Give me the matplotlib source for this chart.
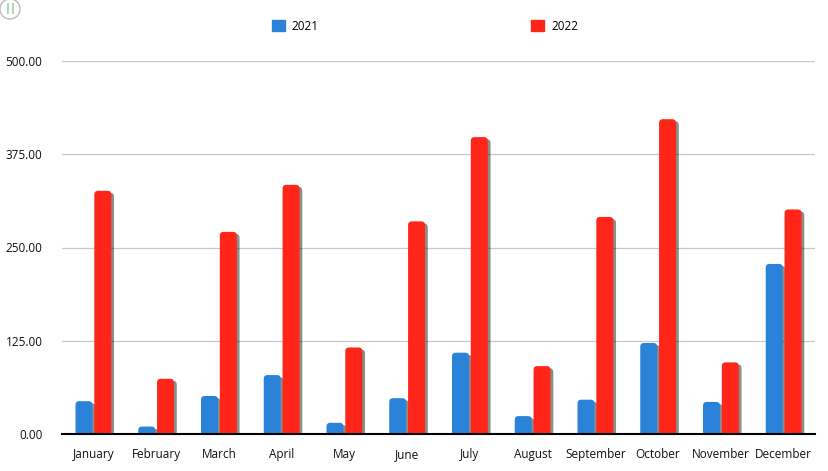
import numpy as np
import matplotlib
matplotlib.use('Agg')
import matplotlib.pyplot as plt
import matplotlib.patheffects as pe
from matplotlib.patches import FancyBboxPatch, Circle
from matplotlib.ticker import FormatStrFormatter

# Data
months = ['January', 'February', 'March', 'April', 'May', 'June', 'July',
          'August', 'September', 'October', 'November', 'December']
values_2021 = [44, 10, 51, 79, 15, 48, 109, 24, 46, 122, 43, 228]
values_2022 = [326, 74, 271, 334, 116, 285, 398, 91, 291, 422, 96, 301]
series_labels = ['2021', '2022']
y_ticks = [0, 125, 250, 375, 500]

blue = '#2b82d9'
red = '#ff2519'

plt.rcParams['font.family'] = ['Open Sans', 'DejaVu Sans']
plt.rcParams['font.size'] = 8.5

fig = plt.figure(figsize=(8.29, 4.71), dpi=100)
ax = fig.add_axes([62 / 829, 1 - 434 / 471, (815 - 62) / 829, (434 - 61) / 471])

x = np.arange(len(months))
w = 0.27
gap = 0.015
shadow = [pe.SimplePatchShadow(offset=(2, -1.5), shadow_rgbFace='black', alpha=0.45), pe.Normal()]

def rounded_bars(xs, heights, color):
    bars = ax.bar(xs, heights, width=w, color=color, zorder=3)
    # swap the square bars for ones with rounded tops (bottom is hidden below y=0)
    for b in bars:
        b.set_visible(False)
        bx, by = b.get_x(), b.get_y()
        bw, bh = b.get_width(), b.get_height()
        r = 0.06
        asp = 84
        patch = FancyBboxPatch((bx + r, by - 20), bw - 2 * r, bh + 20 - r * asp,
                               boxstyle=f'round,pad={r},rounding_size={r}',
                               mutation_aspect=asp, facecolor=color, edgecolor='none',
                               zorder=3, clip_on=True)
        patch.set_path_effects(shadow)
        ax.add_patch(patch)
    return bars

rounded_bars(x - w / 2 - gap, values_2021, blue)
rounded_bars(x + w / 2 + gap, values_2022, red)

ax.set_xlim(-0.5, len(months) - 0.5)
ax.set_ylim(0, 500)
ax.set_yticks(y_ticks)
ax.yaxis.set_major_formatter(FormatStrFormatter('%.2f'))
ax.set_xticks(x)
ax.set_xticklabels(months)
ax.tick_params(axis='both', length=0, labelsize=8.5, colors='#111111')
ax.tick_params(axis='x', pad=10)
ax.tick_params(axis='y', pad=14)

ax.grid(True, axis='y', color='#c8c8c8', linewidth=0.9, zorder=0)
ax.set_axisbelow(True)
for side in ['left', 'right', 'top']:
    ax.spines[side].set_visible(False)
ax.spines['bottom'].set_color('black')
ax.spines['bottom'].set_linewidth(1.5)
ax.spines['bottom'].set_zorder(5)

# legend at top
handles = [plt.Rectangle((0, 0), 1, 1, color=blue), plt.Rectangle((0, 0), 1, 1, color=red)]
fig.legend(handles, series_labels, loc='center', bbox_to_anchor=(425 / 829, 1 - 26 / 471),
           ncol=2, frameon=False, handlelength=1.1, handleheight=1.1, handletextpad=0.6,
           columnspacing=18.0, fontsize=8.5)

# small pause button in the top-left corner (pixel coordinates)
btn = Circle((10, 471 - 9), 10, transform=None,
             facecolor='white', edgecolor='#bbbbbb', linewidth=1)
fig.patches.append(btn)
fig.text(10 / 829, 1 - 9 / 471, '||', color='#22a046', ha='center', va='center', fontsize=8)

fig.savefig('out.png', dpi=100)
